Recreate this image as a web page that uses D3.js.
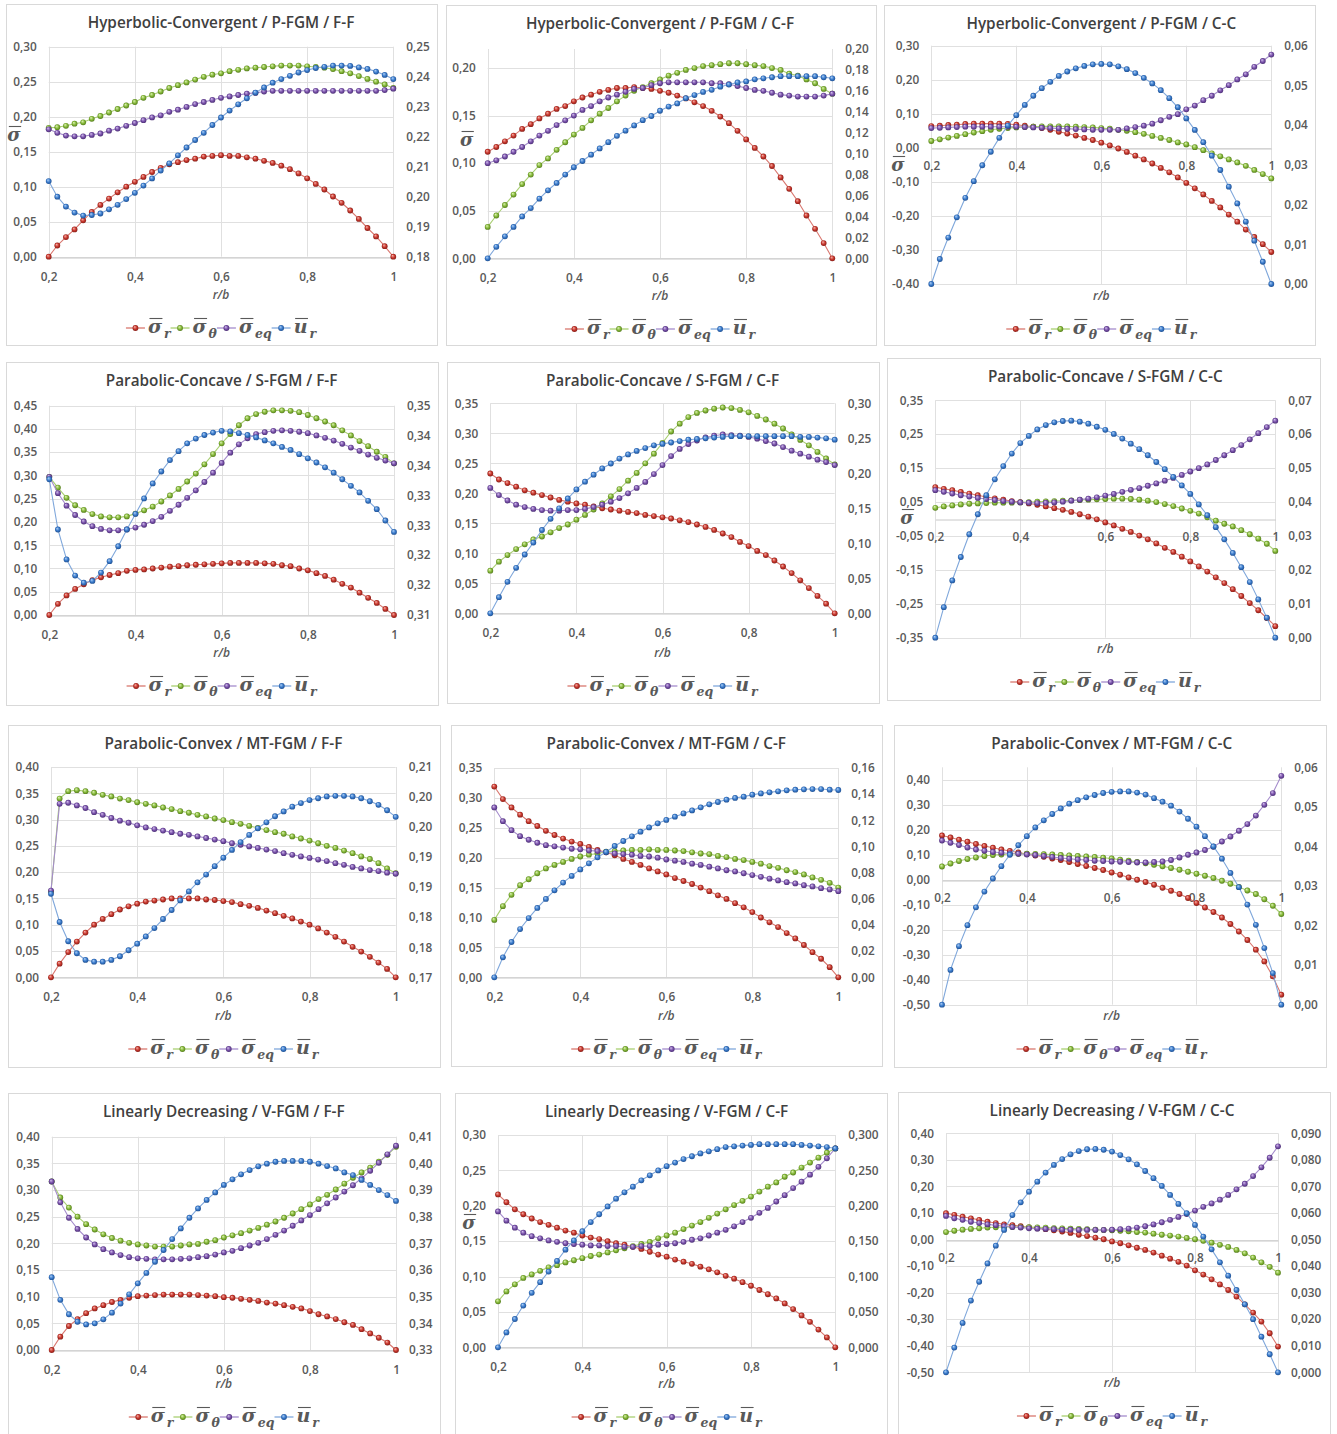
<!DOCTYPE html>
<html>
<head>
<meta charset="utf-8">
<script src="https://cdn.jsdelivr.net/npm/d3@7"></script>
<style>
  body { margin: 0; background: #fff; }
  svg { display: block; }
</style>
</head>
<body>
<script>
// page size
var W = 1337, H = 1434;

// r/b positions of the computed points
var rb = [0.20,0.22,0.24,0.26,0.28,0.30,0.32,0.34,0.36,0.38,
          0.40,0.42,0.44,0.46,0.48,0.50,0.52,0.54,0.56,0.58,
          0.60,0.62,0.64,0.66,0.68,0.70,0.72,0.74,0.76,0.78,
          0.80,0.82,0.84,0.86,0.88,0.90,0.92,0.94,0.96,0.98,1.00];

var xTicks = [0.2, 0.4, 0.6, 0.8, 1];
var xLabels = ["0,2", "0,4", "0,6", "0,8", "1"];

// left axis ticks
var lt020 = [0, 0.05, 0.10, 0.15, 0.20];
var ll020 = ["0,00", "0,05", "0,10", "0,15", "0,20"];
var lt030 = [0, 0.05, 0.10, 0.15, 0.20, 0.25, 0.30];
var ll030 = ["0,00", "0,05", "0,10", "0,15", "0,20", "0,25", "0,30"];
var lt035 = [0, 0.05, 0.10, 0.15, 0.20, 0.25, 0.30, 0.35];
var ll035 = ["0,00", "0,05", "0,10", "0,15", "0,20", "0,25", "0,30", "0,35"];
var lt040 = [0, 0.05, 0.10, 0.15, 0.20, 0.25, 0.30, 0.35, 0.40];
var ll040 = ["0,00", "0,05", "0,10", "0,15", "0,20", "0,25", "0,30", "0,35", "0,40"];
var lt045 = [0, 0.05, 0.10, 0.15, 0.20, 0.25, 0.30, 0.35, 0.40, 0.45];
var ll045 = ["0,00", "0,05", "0,10", "0,15", "0,20", "0,25", "0,30", "0,35", "0,40", "0,45"];
var ltM40 = [-0.4, -0.3, -0.2, -0.1, 0, 0.1, 0.2, 0.3];
var llM40 = ["-0,40", "-0,30", "-0,20", "-0,10", "0,00", "0,10", "0,20", "0,30"];
var ltM35 = [-0.35, -0.25, -0.15, -0.05, 0.05, 0.15, 0.25, 0.35];
var llM35 = ["-0,35", "-0,25", "-0,15", "-0,05", "0,05", "0,15", "0,25", "0,35"];
var ltM50 = [-0.5, -0.4, -0.3, -0.2, -0.1, 0, 0.1, 0.2, 0.3, 0.4];
var llM50 = ["-0,50", "-0,40", "-0,30", "-0,20", "-0,10", "0,00", "0,10", "0,20", "0,30", "0,40"];

// right axis ticks
var rt1 = [0.18, 0.19, 0.20, 0.21, 0.22, 0.23, 0.24, 0.25];
var rl1 = ["0,18", "0,19", "0,20", "0,21", "0,22", "0,23", "0,24", "0,25"];
var rt2 = [0, 0.02, 0.04, 0.06, 0.08, 0.10, 0.12, 0.14, 0.16, 0.18, 0.20];
var rl2 = ["0,00", "0,02", "0,04", "0,06", "0,08", "0,10", "0,12", "0,14", "0,16", "0,18", "0,20"];
var rt06 = [0, 0.01, 0.02, 0.03, 0.04, 0.05, 0.06];
var rl06 = ["0,00", "0,01", "0,02", "0,03", "0,04", "0,05", "0,06"];
var rt4 = [0.31, 0.315, 0.32, 0.325, 0.33, 0.335, 0.34, 0.345];
var rl4 = ["0,31", "0,32", "0,32", "0,33", "0,33", "0,34", "0,34", "0,35"];
var rt5 = [0, 0.05, 0.10, 0.15, 0.20, 0.25, 0.30];
var rl5 = ["0,00", "0,05", "0,10", "0,15", "0,20", "0,25", "0,30"];
var rt6 = [0, 0.01, 0.02, 0.03, 0.04, 0.05, 0.06, 0.07];
var rl6 = ["0,00", "0,01", "0,02", "0,03", "0,04", "0,05", "0,06", "0,07"];
var rt7 = [0.17, 0.175, 0.18, 0.185, 0.19, 0.195, 0.20, 0.205];
var rl7 = ["0,17", "0,18", "0,18", "0,19", "0,19", "0,20", "0,20", "0,21"];
var rt8 = [0, 0.02, 0.04, 0.06, 0.08, 0.10, 0.12, 0.14, 0.16];
var rl8 = ["0,00", "0,02", "0,04", "0,06", "0,08", "0,10", "0,12", "0,14", "0,16"];
var rt10 = [0.33, 0.34, 0.35, 0.36, 0.37, 0.38, 0.39, 0.40, 0.41];
var rl10 = ["0,33", "0,34", "0,35", "0,36", "0,37", "0,38", "0,39", "0,40", "0,41"];
var rt11 = [0, 0.05, 0.10, 0.15, 0.20, 0.25, 0.30];
var rl11 = ["0,000", "0,050", "0,100", "0,150", "0,200", "0,250", "0,300"];
var rt12 = [0, 0.01, 0.02, 0.03, 0.04, 0.05, 0.06, 0.07, 0.08, 0.09];
var rl12 = ["0,000", "0,010", "0,020", "0,030", "0,040", "0,050", "0,060", "0,070", "0,080", "0,090"];

// ---- Hyperbolic-Convergent / P-FGM / F-F
var p1Sr = [0,0.016,0.028,0.039,0.052,0.064,0.074,0.083,0.092,0.100,
  0.107,0.114,0.121,0.127,0.132,0.135,0.138,0.140,0.143,0.144,
  0.145,0.144,0.144,0.142,0.140,0.137,0.134,0.130,0.125,0.119,
  0.112,0.104,0.096,0.086,0.077,0.066,0.054,0.041,0.029,0.015,0];
var p1St = [0.184,0.185,0.187,0.190,0.192,0.197,0.201,0.206,0.211,0.216,
  0.221,0.227,0.231,0.236,0.241,0.245,0.249,0.253,0.257,0.260,
  0.262,0.265,0.267,0.269,0.270,0.271,0.272,0.273,0.273,0.273,
  0.272,0.271,0.270,0.268,0.265,0.262,0.258,0.254,0.250,0.246,0.241];
var p1Seq = [0.182,0.177,0.173,0.172,0.172,0.174,0.176,0.180,0.183,0.187,
  0.191,0.195,0.199,0.202,0.207,0.210,0.214,0.218,0.221,0.224,
  0.227,0.229,0.231,0.233,0.234,0.236,0.237,0.237,0.237,0.237,
  0.237,0.237,0.237,0.237,0.237,0.237,0.237,0.237,0.237,0.238,0.240];
var p1Ur = [0.2052,0.2000,0.1967,0.1947,0.1937,0.1939,0.1944,0.1958,0.1973,0.1992,
  0.2013,0.2037,0.2061,0.2087,0.2111,0.2138,0.2164,0.2189,0.2213,0.2239,
  0.2264,0.2287,0.2308,0.2328,0.2347,0.2364,0.2380,0.2392,0.2403,0.2414,
  0.2422,0.2429,0.2433,0.2437,0.2437,0.2436,0.2431,0.2426,0.2417,0.2406,0.2392];

// ---- Hyperbolic-Convergent / P-FGM / C-F
var p2Sr = [0.112,0.117,0.123,0.129,0.136,0.141,0.147,0.152,0.157,0.160,
  0.165,0.169,0.172,0.175,0.177,0.179,0.179,0.180,0.179,0.178,
  0.176,0.174,0.171,0.168,0.164,0.160,0.155,0.149,0.142,0.134,
  0.125,0.116,0.107,0.097,0.085,0.073,0.060,0.045,0.031,0.016,0];
var p2St = [0.033,0.045,0.056,0.067,0.078,0.088,0.098,0.105,0.114,0.122,
  0.130,0.137,0.145,0.152,0.158,0.165,0.171,0.176,0.180,0.184,
  0.188,0.192,0.195,0.198,0.200,0.202,0.203,0.204,0.205,0.205,
  0.204,0.203,0.202,0.200,0.198,0.194,0.192,0.188,0.184,0.178,0.173];
var p2Seq = [0.100,0.103,0.107,0.112,0.117,0.123,0.129,0.134,0.140,0.145,
  0.150,0.156,0.160,0.165,0.169,0.172,0.175,0.178,0.179,0.182,
  0.184,0.185,0.185,0.185,0.185,0.185,0.184,0.184,0.183,0.181,
  0.179,0.177,0.176,0.174,0.172,0.171,0.170,0.170,0.170,0.171,0.173];
var p2Ur = [0,0.011,0.021,0.030,0.040,0.048,0.057,0.065,0.072,0.080,
  0.087,0.093,0.099,0.105,0.111,0.117,0.122,0.127,0.132,0.136,
  0.141,0.145,0.148,0.153,0.156,0.159,0.161,0.164,0.166,0.168,
  0.169,0.171,0.172,0.173,0.174,0.174,0.174,0.174,0.174,0.173,0.172];

// ---- Hyperbolic-Convergent / P-FGM / C-C
var p3Sr = [0.064,0.065,0.067,0.068,0.070,0.071,0.071,0.071,0.071,0.070,
  0.068,0.065,0.062,0.058,0.053,0.047,0.042,0.036,0.029,0.023,
  0.015,0.007,-0.002,-0.012,-0.023,-0.034,-0.046,-0.059,-0.072,-0.087,
  -0.103,-0.119,-0.137,-0.156,-0.175,-0.196,-0.217,-0.240,-0.262,-0.283,-0.306];
var p3St = [0.020,0.025,0.030,0.035,0.040,0.045,0.049,0.053,0.056,0.058,
  0.060,0.061,0.062,0.063,0.063,0.063,0.063,0.062,0.061,0.060,
  0.058,0.056,0.053,0.050,0.046,0.041,0.035,0.029,0.023,0.016,
  0.010,0.002,-0.007,-0.016,-0.025,-0.034,-0.043,-0.053,-0.065,-0.077,-0.090];
var p3Seq = [0.058,0.059,0.060,0.061,0.062,0.062,0.062,0.062,0.062,0.062,
  0.062,0.061,0.060,0.059,0.058,0.057,0.056,0.055,0.054,0.053,
  0.053,0.053,0.053,0.057,0.061,0.065,0.071,0.081,0.091,0.099,
  0.113,0.124,0.140,0.153,0.169,0.184,0.201,0.216,0.238,0.255,0.274];
var p3Ur = [0,0.0063,0.0117,0.0168,0.0217,0.0259,0.0299,0.0333,0.0368,0.0399,
  0.0425,0.0451,0.0474,0.0493,0.0509,0.0524,0.0535,0.0543,0.0549,0.0553,
  0.0554,0.0553,0.0548,0.0541,0.0531,0.0519,0.0505,0.0488,0.0468,0.0445,
  0.0417,0.0388,0.0357,0.0323,0.0287,0.0245,0.0203,0.0157,0.0109,0.0056,0];

// ---- Parabolic-Concave / S-FGM / F-F
var p4Sr = [0,0.024,0.042,0.056,0.066,0.075,0.081,0.086,0.090,0.095,
  0.097,0.098,0.100,0.102,0.104,0.105,0.107,0.108,0.109,0.110,
  0.111,0.112,0.112,0.112,0.112,0.111,0.110,0.107,0.105,0.100,
  0.096,0.090,0.084,0.076,0.067,0.059,0.048,0.037,0.026,0.013,0];
var p4St = [0.297,0.274,0.252,0.236,0.226,0.217,0.212,0.210,0.210,0.212,
  0.218,0.225,0.233,0.244,0.257,0.271,0.287,0.304,0.324,0.346,
  0.369,0.389,0.408,0.423,0.432,0.437,0.440,0.440,0.439,0.436,
  0.430,0.423,0.416,0.408,0.397,0.386,0.374,0.363,0.351,0.340,0.326];
var p4Seq = [0.297,0.262,0.235,0.215,0.201,0.191,0.185,0.182,0.182,0.184,
  0.188,0.194,0.202,0.211,0.224,0.237,0.252,0.268,0.286,0.306,
  0.327,0.349,0.367,0.380,0.389,0.393,0.396,0.397,0.396,0.394,
  0.391,0.386,0.381,0.375,0.368,0.360,0.353,0.345,0.338,0.332,0.326];
var p4Ur = [0.3327,0.3243,0.3193,0.3166,0.3154,0.3157,0.3171,0.3190,0.3215,0.3243,
  0.3269,0.3295,0.3320,0.3340,0.3359,0.3374,0.3387,0.3395,0.3401,0.3405,
  0.3408,0.3407,0.3404,0.3401,0.3397,0.3392,0.3387,0.3381,0.3376,0.3369,
  0.3362,0.3355,0.3347,0.3338,0.3327,0.3316,0.3305,0.3291,0.3277,0.3258,0.3239];

// ---- Parabolic-Concave / S-FGM / C-F
var p5Sr = [0.233,0.223,0.217,0.211,0.205,0.201,0.197,0.193,0.189,0.186,
  0.183,0.181,0.178,0.175,0.173,0.171,0.169,0.167,0.164,0.162,
  0.160,0.158,0.155,0.152,0.148,0.144,0.139,0.133,0.127,0.119,
  0.112,0.104,0.097,0.088,0.078,0.067,0.055,0.042,0.029,0.016,0];
var p5St = [0.071,0.086,0.097,0.107,0.115,0.123,0.128,0.135,0.142,0.148,
  0.156,0.164,0.173,0.183,0.195,0.207,0.221,0.234,0.250,0.266,
  0.284,0.303,0.316,0.327,0.334,0.338,0.341,0.343,0.342,0.339,
  0.335,0.329,0.323,0.316,0.308,0.298,0.289,0.280,0.269,0.258,0.248];
var p5Seq = [0.209,0.197,0.188,0.181,0.177,0.174,0.172,0.171,0.171,0.172,
  0.172,0.174,0.177,0.181,0.186,0.192,0.200,0.209,0.219,0.232,
  0.247,0.262,0.274,0.282,0.288,0.293,0.296,0.298,0.297,0.296,
  0.294,0.291,0.287,0.283,0.277,0.271,0.266,0.261,0.256,0.252,0.247];
var p5Ur = [0,0.023,0.045,0.065,0.084,0.101,0.119,0.135,0.150,0.164,
  0.177,0.188,0.198,0.207,0.214,0.221,0.227,0.232,0.236,0.240,
  0.242,0.244,0.246,0.248,0.249,0.250,0.251,0.252,0.253,0.253,
  0.253,0.253,0.253,0.253,0.253,0.253,0.252,0.252,0.251,0.250,0.248];

// ---- Parabolic-Concave / S-FGM / C-C
var p6Sr = [0.094,0.089,0.085,0.080,0.075,0.070,0.065,0.061,0.057,0.053,
  0.050,0.046,0.042,0.037,0.032,0.027,0.021,0.014,0.007,-0.001,
  -0.010,-0.019,-0.029,-0.038,-0.049,-0.060,-0.072,-0.085,-0.097,-0.111,
  -0.125,-0.140,-0.155,-0.172,-0.189,-0.207,-0.227,-0.248,-0.269,-0.292,-0.316];
var p6St = [0.033,0.037,0.040,0.043,0.045,0.046,0.047,0.048,0.048,0.048,
  0.049,0.050,0.051,0.052,0.053,0.054,0.055,0.056,0.057,0.058,
  0.059,0.060,0.060,0.059,0.057,0.054,0.050,0.044,0.038,0.031,
  0.024,0.016,0.005,-0.005,-0.014,-0.022,-0.033,-0.045,-0.058,-0.073,-0.094];
var p6Seq = [0.085,0.080,0.075,0.070,0.066,0.062,0.059,0.056,0.053,0.051,
  0.049,0.048,0.047,0.048,0.049,0.051,0.054,0.057,0.060,0.064,
  0.069,0.074,0.080,0.086,0.091,0.098,0.105,0.113,0.121,0.130,
  0.140,0.150,0.161,0.174,0.188,0.203,0.218,0.235,0.253,0.271,0.290];
var p6Ur = [0,0.0090,0.0169,0.0238,0.0305,0.0364,0.0420,0.0467,0.0506,0.0543,
  0.0574,0.0595,0.0614,0.0627,0.0635,0.0639,0.0640,0.0637,0.0631,0.0622,
  0.0613,0.0601,0.0587,0.0572,0.0556,0.0538,0.0518,0.0497,0.0474,0.0449,
  0.0424,0.0393,0.0361,0.0326,0.0290,0.0250,0.0208,0.0164,0.0113,0.0059,0];

// ---- Parabolic-Convex / MT-FGM / F-F
var p7Sr = [0,0.026,0.048,0.068,0.085,0.100,0.111,0.120,0.129,0.135,
  0.140,0.144,0.146,0.148,0.150,0.150,0.150,0.150,0.148,0.147,
  0.145,0.143,0.139,0.136,0.132,0.127,0.122,0.117,0.112,0.106,
  0.100,0.093,0.085,0.077,0.068,0.058,0.049,0.039,0.028,0.016,0];
var p7St = [0.163,0.340,0.354,0.356,0.354,0.351,0.347,0.344,0.340,0.337,
  0.333,0.330,0.327,0.323,0.320,0.316,0.313,0.309,0.306,0.302,
  0.299,0.295,0.292,0.288,0.284,0.280,0.276,0.273,0.268,0.264,
  0.260,0.255,0.250,0.246,0.241,0.236,0.230,0.225,0.217,0.207,0.198];
var p7Seq = [0.165,0.330,0.332,0.327,0.322,0.314,0.309,0.303,0.298,0.294,
  0.289,0.285,0.282,0.279,0.276,0.273,0.271,0.268,0.265,0.262,
  0.259,0.255,0.252,0.249,0.246,0.243,0.240,0.236,0.233,0.230,
  0.227,0.224,0.221,0.217,0.214,0.210,0.207,0.204,0.202,0.199,0.197];
var p7Ur = [0.1839,0.1792,0.1760,0.1740,0.1729,0.1726,0.1726,0.1729,0.1735,0.1745,
  0.1756,0.1768,0.1782,0.1797,0.1812,0.1828,0.1843,0.1858,0.1871,0.1885,
  0.1899,0.1912,0.1925,0.1937,0.1948,0.1958,0.1968,0.1976,0.1984,0.1990,
  0.1995,0.1998,0.2001,0.2002,0.2002,0.2001,0.1998,0.1993,0.1987,0.1978,0.1967];

// ---- Parabolic-Convex / MT-FGM / C-F
var p8Sr = [0.319,0.298,0.284,0.272,0.261,0.253,0.245,0.238,0.232,0.227,
  0.223,0.218,0.213,0.209,0.204,0.198,0.193,0.188,0.182,0.177,
  0.172,0.166,0.161,0.156,0.150,0.144,0.137,0.131,0.124,0.117,
  0.109,0.100,0.092,0.084,0.074,0.065,0.054,0.042,0.031,0.017,0];
var p8St = [0.096,0.119,0.138,0.154,0.164,0.174,0.182,0.188,0.193,0.198,
  0.202,0.205,0.207,0.210,0.211,0.212,0.213,0.213,0.214,0.213,
  0.213,0.212,0.211,0.209,0.207,0.206,0.203,0.201,0.198,0.196,
  0.193,0.190,0.186,0.183,0.179,0.176,0.172,0.167,0.163,0.158,0.150];
var p8Seq = [0.284,0.261,0.246,0.236,0.230,0.225,0.221,0.219,0.217,0.215,
  0.214,0.212,0.211,0.209,0.207,0.206,0.205,0.203,0.202,0.200,
  0.197,0.195,0.193,0.190,0.188,0.185,0.182,0.179,0.177,0.174,
  0.171,0.168,0.165,0.162,0.159,0.157,0.154,0.152,0.149,0.147,0.144];
var p8Ur = [0,0.0153,0.0270,0.0369,0.0453,0.0530,0.0599,0.0665,0.0724,0.0775,
  0.0825,0.0871,0.0917,0.0958,0.1004,0.1042,0.1078,0.1113,0.1146,0.1177,
  0.1203,0.1228,0.1253,0.1276,0.1299,0.1322,0.1340,0.1358,0.1371,0.1381,
  0.1396,0.1406,0.1414,0.1422,0.1429,0.1434,0.1437,0.1439,0.1439,0.1434,0.1432];

// ---- Parabolic-Convex / MT-FGM / C-C
var p9Sr = [0.177,0.169,0.160,0.152,0.143,0.135,0.128,0.121,0.115,0.109,
  0.103,0.097,0.092,0.085,0.079,0.071,0.063,0.055,0.047,0.039,
  0.029,0.020,0.009,0.000,-0.009,-0.020,-0.032,-0.044,-0.057,-0.073,
  -0.093,-0.111,-0.129,-0.151,-0.177,-0.207,-0.241,-0.280,-0.327,-0.387,-0.460];
var p9St = [0.053,0.065,0.075,0.083,0.089,0.095,0.099,0.101,0.103,0.104,
  0.104,0.103,0.102,0.101,0.099,0.097,0.095,0.093,0.091,0.088,
  0.085,0.080,0.076,0.071,0.066,0.060,0.054,0.047,0.040,0.032,
  0.024,0.016,0.007,-0.004,-0.016,-0.029,-0.043,-0.057,-0.078,-0.104,-0.137];
var p9Seq = [0.157,0.148,0.139,0.129,0.121,0.116,0.111,0.108,0.105,0.104,
  0.101,0.099,0.095,0.091,0.087,0.084,0.081,0.079,0.076,0.075,
  0.073,0.072,0.071,0.069,0.069,0.071,0.073,0.079,0.089,0.100,
  0.109,0.119,0.132,0.153,0.173,0.196,0.223,0.257,0.300,0.347,0.416];
var p9Ur = [0,0.0088,0.0148,0.0201,0.0246,0.0286,0.0319,0.0350,0.0379,0.0403,
  0.0426,0.0448,0.0466,0.0482,0.0496,0.0508,0.0517,0.0524,0.0530,0.0535,
  0.0538,0.0539,0.0539,0.0536,0.0531,0.0522,0.0513,0.0503,0.0488,0.0470,
  0.0450,0.0426,0.0400,0.0369,0.0333,0.0297,0.0253,0.0202,0.0143,0.0080,0];

// ---- Linearly Decreasing / V-FGM / F-F
var p10Sr = [0,0.025,0.045,0.058,0.069,0.078,0.084,0.090,0.094,0.098,
  0.101,0.102,0.103,0.104,0.104,0.104,0.104,0.103,0.102,0.101,
  0.099,0.098,0.096,0.094,0.092,0.089,0.087,0.084,0.081,0.078,
  0.073,0.067,0.063,0.058,0.052,0.047,0.039,0.031,0.023,0.014,0];
var p10St = [0.316,0.286,0.267,0.250,0.236,0.226,0.217,0.210,0.205,0.201,
  0.198,0.196,0.194,0.194,0.194,0.196,0.198,0.199,0.203,0.206,
  0.211,0.215,0.219,0.224,0.229,0.235,0.241,0.248,0.256,0.264,
  0.273,0.283,0.291,0.301,0.312,0.323,0.333,0.342,0.353,0.366,0.381];
var p10Seq = [0.316,0.277,0.248,0.227,0.211,0.198,0.189,0.183,0.178,0.174,
  0.172,0.171,0.170,0.170,0.170,0.171,0.172,0.174,0.176,0.179,
  0.183,0.186,0.191,0.196,0.201,0.208,0.216,0.224,0.233,0.243,
  0.253,0.264,0.275,0.286,0.297,0.309,0.322,0.336,0.351,0.367,0.383];
var p10Ur = [0.3573,0.3488,0.3434,0.3406,0.3396,0.3400,0.3415,0.3440,0.3474,0.3509,
  0.3550,0.3589,0.3631,0.3675,0.3716,0.3756,0.3796,0.3831,0.3863,0.3891,
  0.3919,0.3940,0.3959,0.3975,0.3989,0.3999,0.4006,0.4009,0.4009,0.4009,
  0.4006,0.3999,0.3990,0.3981,0.3966,0.3956,0.3938,0.3919,0.3900,0.3881,0.3859];

// ---- Linearly Decreasing / V-FGM / C-F
var p11Sr = [0.216,0.205,0.195,0.188,0.182,0.177,0.173,0.169,0.165,0.162,
  0.158,0.155,0.153,0.150,0.147,0.145,0.142,0.139,0.135,0.131,
  0.128,0.124,0.121,0.118,0.114,0.110,0.106,0.101,0.097,0.092,
  0.087,0.081,0.075,0.069,0.062,0.054,0.045,0.036,0.025,0.014,0];
var p11St = [0.065,0.079,0.089,0.098,0.103,0.108,0.113,0.116,0.120,0.123,
  0.126,0.129,0.131,0.134,0.137,0.140,0.143,0.146,0.149,0.154,
  0.158,0.162,0.167,0.172,0.177,0.183,0.189,0.195,0.201,0.207,
  0.213,0.220,0.227,0.233,0.241,0.247,0.254,0.261,0.268,0.275,0.281];
var p11Seq = [0.192,0.179,0.169,0.162,0.157,0.154,0.151,0.149,0.147,0.146,
  0.145,0.144,0.144,0.143,0.143,0.142,0.142,0.143,0.143,0.145,
  0.146,0.147,0.149,0.152,0.154,0.158,0.162,0.166,0.171,0.177,
  0.183,0.190,0.197,0.206,0.215,0.225,0.234,0.244,0.255,0.267,0.281];
var p11Ur = [0,0.021,0.040,0.059,0.077,0.092,0.107,0.122,0.138,0.151,
  0.164,0.177,0.188,0.199,0.210,0.219,0.227,0.236,0.243,0.250,
  0.256,0.261,0.266,0.270,0.274,0.277,0.280,0.283,0.284,0.285,
  0.286,0.287,0.287,0.287,0.287,0.287,0.286,0.285,0.284,0.283,0.281];

// ---- Linearly Decreasing / V-FGM / C-C
var p12Sr = [0.099,0.093,0.086,0.080,0.074,0.067,0.062,0.057,0.054,0.050,
  0.046,0.042,0.039,0.035,0.030,0.025,0.018,0.013,0.007,0.001,
  -0.007,-0.014,-0.022,-0.031,-0.039,-0.049,-0.061,-0.072,-0.084,-0.098,
  -0.116,-0.132,-0.150,-0.169,-0.190,-0.215,-0.244,-0.275,-0.309,-0.353,-0.403];
var p12St = [0.028,0.033,0.037,0.040,0.042,0.045,0.046,0.047,0.047,0.047,
  0.047,0.046,0.045,0.043,0.042,0.041,0.040,0.039,0.037,0.036,
  0.035,0.033,0.031,0.028,0.026,0.022,0.018,0.015,0.011,0.006,
  0.001,-0.005,-0.012,-0.020,-0.028,-0.039,-0.052,-0.068,-0.086,-0.103,-0.125];
var p12Seq = [0.089,0.080,0.074,0.067,0.062,0.057,0.054,0.050,0.047,0.045,
  0.042,0.041,0.040,0.039,0.037,0.037,0.036,0.036,0.036,0.036,
  0.037,0.039,0.041,0.045,0.050,0.057,0.065,0.074,0.085,0.096,
  0.109,0.123,0.136,0.150,0.168,0.189,0.210,0.239,0.272,0.308,0.351];
var p12Ur = [0,0.0093,0.0186,0.0270,0.0341,0.0410,0.0477,0.0536,0.0592,0.0640,
  0.0680,0.0718,0.0752,0.0781,0.0803,0.0821,0.0833,0.0840,0.0841,0.0838,
  0.0831,0.0818,0.0802,0.0783,0.0758,0.0731,0.0702,0.0668,0.0634,0.0599,
  0.0555,0.0511,0.0463,0.0414,0.0364,0.0310,0.0256,0.0200,0.0134,0.0068,0];

// series look: red, green, purple (left axis), blue (right axis)
var seriesStyle = [
  {id: "r", base: "#c8372d", hi: "#f7b4ac", dark: "#7d1a14", line: "#d9776f", sym: "σ", sub: "r"},
  {id: "g", base: "#86b93a", hi: "#e0f5b8", dark: "#4d7416", line: "#a9cf72", sym: "σ", sub: "θ"},
  {id: "p", base: "#7a52ab", hi: "#d5c3ee", dark: "#452a6e", line: "#a58ccc", sym: "σ", sub: "eq"},
  {id: "b", base: "#3a7bcc", hi: "#b3d3f7", dark: "#1b4a8a", line: "#7fa7db", sym: "u", sub: "r"}
];

// layout: box = frame [x, y, w, h]; plot = [left, top, right, bottom]; sig = σ̄ axis name (x, baseline)
var panels = [
  {title: "Hyperbolic-Convergent / P-FGM / F-F", box: [6, 4, 431, 341], plot: [48.7, 46.7, 393.3, 256.7],
   left: [0, 0.30], lt: lt030, ll: ll030, right: [0.18, 0.25], rt: rt1, rl: rl1,
   data: [p1Sr, p1St, p1Seq, p1Ur], sig: [14, 141]},
  {title: "Hyperbolic-Convergent / P-FGM / C-F", box: [446, 5, 430, 340], plot: [487.7, 49, 832.3, 258.3],
   left: [0, 0.22], lt: lt020, ll: ll020, right: [0, 0.20], rt: rt2, rl: rl2,
   data: [p2Sr, p2St, p2Seq, p2Ur], sig: [466.7, 146]},
  {title: "Hyperbolic-Convergent / P-FGM / C-C", box: [884, 5, 431, 340], plot: [931.3, 45.7, 1271.3, 284],
   left: [-0.4, 0.3], lt: ltM40, ll: llM40, right: [0, 0.06], rt: rt06, rl: rl06,
   data: [p3Sr, p3St, p3Seq, p3Ur], sig: [898, 171], zero: true},
  {title: "Parabolic-Concave / S-FGM / F-F", box: [6, 362, 432, 343], plot: [49.3, 405.7, 394, 615],
   left: [0, 0.45], lt: lt045, ll: ll045, right: [0.31, 0.345], rt: rt4, rl: rl4,
   data: [p4Sr, p4St, p4Seq, p4Ur]},
  {title: "Parabolic-Concave / S-FGM / C-F", box: [447, 362, 432, 341], plot: [490.3, 403.3, 834.7, 613.3],
   left: [0, 0.35], lt: lt035, ll: ll035, right: [0, 0.30], rt: rt5, rl: rl5,
   data: [p5Sr, p5St, p5Seq, p5Ur]},
  {title: "Parabolic-Concave / S-FGM / C-C", box: [887, 358, 433, 342], plot: [935.3, 400.3, 1275.3, 637.7],
   left: [-0.35, 0.35], lt: ltM35, ll: llM35, right: [0, 0.07], rt: rt6, rl: rl6,
   data: [p6Sr, p6St, p6Seq, p6Ur], sig: [907, 524], zero: true},
  {title: "Parabolic-Convex / MT-FGM / F-F", box: [8, 725, 432, 342], plot: [51, 767, 395.7, 977.3],
   left: [0, 0.40], lt: lt040, ll: ll040, right: [0.17, 0.205], rt: rt7, rl: rl7,
   data: [p7Sr, p7St, p7Seq, p7Ur]},
  {title: "Parabolic-Convex / MT-FGM / C-F", box: [451, 725, 431, 341], plot: [494.3, 768, 838.3, 977.3],
   left: [0, 0.35], lt: lt035, ll: ll035, right: [0, 0.16], rt: rt8, rl: rl8,
   data: [p8Sr, p8St, p8Seq, p8Ur]},
  {title: "Parabolic-Convex / MT-FGM / C-C", box: [894, 725, 432, 342], plot: [942, 767.3, 1281.3, 1004.7],
   left: [-0.5, 0.45], lt: ltM50, ll: llM50, right: [0, 0.06], rt: rt06, rl: rl06,
   data: [p9Sr, p9St, p9Seq, p9Ur], zero: true},
  {title: "Linearly Decreasing / V-FGM / F-F", box: [8, 1093, 432, 345], plot: [51.7, 1136.7, 396, 1350],
   left: [0, 0.40], lt: lt040, ll: ll040, right: [0.33, 0.41], rt: rt10, rl: rl10,
   data: [p10Sr, p10St, p10Seq, p10Ur]},
  {title: "Linearly Decreasing / V-FGM / C-F", box: [455, 1093, 432, 345], plot: [498, 1135, 835.3, 1347.3],
   left: [0, 0.30], lt: lt030, ll: ll030, right: [0, 0.30], rt: rt11, rl: rl11,
   data: [p11Sr, p11St, p11Seq, p11Ur], sig: [469, 1229]},
  {title: "Linearly Decreasing / V-FGM / C-C", box: [898, 1092, 432, 345], plot: [946, 1133.3, 1278, 1372.3],
   left: [-0.5, 0.4], lt: ltM50, ll: llM50, right: [0, 0.09], rt: rt12, rl: rl12,
   data: [p12Sr, p12St, p12Seq, p12Ur], zero: true}
];

var labelFont = "'Open Sans', 'Liberation Sans', sans-serif";
var symFont = "'DejaVu Serif', serif";
var textGrey = "#595959";

var svg = d3.select("body").append("svg")
  .attr("width", W)
  .attr("height", H);

// shaded round markers
var defs = svg.append("defs");
seriesStyle.forEach(function(s) {
  var gr = defs.append("radialGradient")
    .attr("id", "mk-" + s.id)
    .attr("cx", "50%").attr("cy", "50%").attr("r", "55%")
    .attr("fx", "35%").attr("fy", "30%");
  gr.append("stop").attr("offset", "0%").attr("stop-color", s.hi);
  gr.append("stop").attr("offset", "55%").attr("stop-color", s.base);
  gr.append("stop").attr("offset", "100%").attr("stop-color", s.dark);
});

function styleAxis(ax) {
  ax.selectAll("text")
    .attr("font-family", labelFont)
    .attr("font-size", 11.8)
    .attr("font-weight", 600)
    .attr("fill", textGrey);
  ax.attr("font-family", null).attr("font-size", null);
}

// a σ or u with a bar on top, plus an optional subscript
function barSymbol(g, x, y, sym, sub, anchor, size) {
  size = size || 19;
  var t = g.append("text")
    .attr("x", x).attr("y", y)
    .attr("font-family", symFont)
    .attr("font-style", "italic")
    .attr("font-weight", "bold")
    .attr("font-size", size)
    .attr("fill", textGrey)
    .attr("text-anchor", anchor || "start");
  t.append("tspan").text(sym);
  if (sub) {
    t.append("tspan").attr("dx", 2).attr("dy", 5).attr("font-size", 12.5).text(sub);
  }
  var node = t.node();
  var w0 = node.getSubStringLength(0, 1);
  var total = node.getComputedTextLength();
  var x0 = anchor === "middle" ? x - total / 2 : x;
  g.append("line")
    .attr("x1", x0 + 1.5).attr("x2", x0 + w0 + 0.5)
    .attr("y1", y - 14.5).attr("y2", y - 14.5)
    .attr("stroke", textGrey).attr("stroke-width", 1.1);
  return total;
}

function drawPanel(p) {
  var g = svg.append("g");
  var b = p.box, a = p.plot;

  g.append("rect")
    .attr("x", b[0] + 0.5).attr("y", b[1] + 0.5)
    .attr("width", b[2]).attr("height", b[3])
    .attr("fill", "#fff")
    .attr("stroke", "#d9d9d9");

  var x = d3.scaleLinear().domain([0.2, 1]).range([a[0], a[2]]);
  var yL = d3.scaleLinear().domain(p.left).range([a[3], a[1]]);
  var yR = d3.scaleLinear().domain(p.right).range([a[3], a[1]]);

  // gridlines
  g.append("g").selectAll("line").data(p.lt).join("line")
    .attr("x1", a[0]).attr("x2", a[2])
    .attr("y1", function(d) { return Math.round(yL(d)) + 0.5; })
    .attr("y2", function(d) { return Math.round(yL(d)) + 0.5; })
    .attr("stroke", "#e0e0e0");
  g.append("g").selectAll("line").data(xTicks).join("line")
    .attr("x1", function(d) { return Math.round(x(d)) + 0.5; })
    .attr("x2", function(d) { return Math.round(x(d)) + 0.5; })
    .attr("y1", a[1]).attr("y2", a[3])
    .attr("stroke", "#e0e0e0");

  // left axis (stresses)
  var la = g.append("g")
    .attr("transform", "translate(" + a[0] + ",0)")
    .call(d3.axisLeft(yL).tickValues(p.lt).tickSize(0).tickPadding(12)
      .tickFormat(function(d) { return p.ll[p.lt.indexOf(d)]; }));
  la.select(".domain").remove();
  styleAxis(la);

  // right axis (displacement)
  var ra = g.append("g")
    .attr("transform", "translate(" + a[2] + ",0)")
    .call(d3.axisRight(yR).tickValues(p.rt).tickSize(0).tickPadding(13)
      .tickFormat(function(d) { return p.rl[p.rt.indexOf(d)]; }));
  ra.select(".domain").remove();
  styleAxis(ra);

  // r/b axis, sits on zero of the left scale
  var y0 = Math.round(yL(0)) + 0.5;
  var xa = g.append("g")
    .attr("transform", "translate(0," + y0 + ")")
    .call(d3.axisBottom(x).tickValues(xTicks).tickSize(0).tickSizeOuter(0)
      .tickPadding(p.zero ? 13 : 15)
      .tickFormat(function(d) { return xLabels[xTicks.indexOf(d)]; }));
  xa.select(".domain").attr("stroke", "#c8c8c8");
  styleAxis(xa);

  var cx = (a[0] + a[2]) / 2;

  g.append("text")
    .attr("x", cx).attr("y", b[1] + 24)
    .attr("text-anchor", "middle")
    .attr("font-family", labelFont)
    .attr("font-size", 15.3)
    .attr("font-weight", 600)
    .attr("fill", "#404040")
    .text(p.title);

  g.append("text")
    .attr("x", cx).attr("y", b[1] + 295)
    .attr("text-anchor", "middle")
    .attr("font-family", labelFont)
    .attr("font-size", 12)
    .attr("font-style", "italic")
    .attr("font-weight", 600)
    .attr("fill", textGrey)
    .text("r/b");

  if (p.sig) barSymbol(g, p.sig[0], p.sig[1], "σ", null, "middle", 18);

  // series: three stresses on the left scale, u_r on the right scale
  p.data.forEach(function(vals, k) {
    var s = seriesStyle[k];
    var yy = k === 3 ? yR : yL;
    var line = d3.line()
      .x(function(d, i) { return x(rb[i]); })
      .y(function(d) { return yy(d); });
    g.append("path")
      .datum(vals)
      .attr("d", line)
      .attr("fill", "none")
      .attr("stroke", s.line)
      .attr("stroke-width", 1.1);
    g.append("g").selectAll("circle").data(vals).join("circle")
      .attr("cx", function(d, i) { return x(rb[i]); })
      .attr("cy", function(d) { return yy(d); })
      .attr("r", 2.9)
      .attr("fill", "url(#mk-" + s.id + ")");
  });

  // legend
  var lg = g.append("g");
  var ly = b[1] + 329;
  var pos = 0;
  seriesStyle.forEach(function(s) {
    var it = lg.append("g").attr("transform", "translate(" + pos + ",0)");
    it.append("line")
      .attr("x1", 0).attr("x2", 19)
      .attr("y1", ly - 5).attr("y2", ly - 5)
      .attr("stroke", s.line).attr("stroke-width", 1.3);
    it.append("circle")
      .attr("cx", 9.5).attr("cy", ly - 5).attr("r", 2.9)
      .attr("fill", "url(#mk-" + s.id + ")");
    var w = barSymbol(it, 22, ly, s.sym, s.sub);
    pos += 22 + w + 2;
  });
  lg.attr("transform", "translate(" + (cx - pos / 2) + ",0)");
}

panels.forEach(drawPanel);
</script>
</body>
</html>
